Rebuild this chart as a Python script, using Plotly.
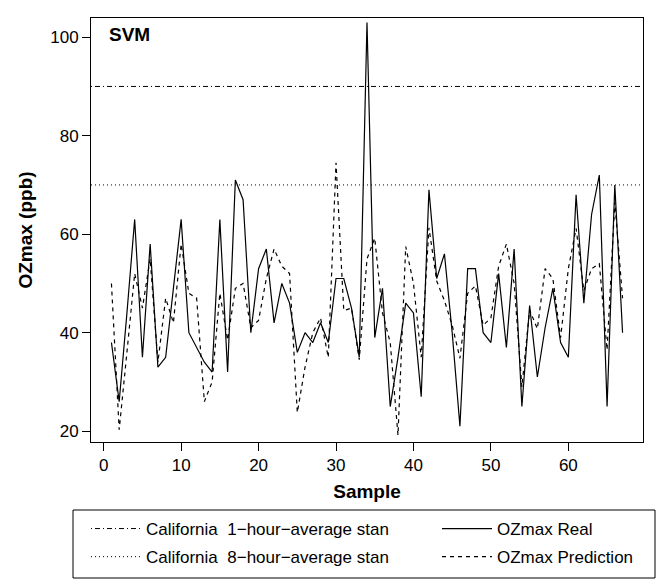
import plotly.graph_objects as go

# ---------------- data ----------------
sample = list(range(1, 68))
ozmax_real = [38, 26, 44, 63, 35, 58, 33, 35, 49, 63,
              40, 37, 34, 32, 63, 32, 71, 67, 40, 53,
              57, 42, 50, 46, 36, 40, 38, 42, 38, 51,
              51, 45, 35, 103, 39, 49, 25, 35, 46, 44,
              27, 69, 51, 56, 40, 21, 53, 53, 40, 38,
              52, 37, 57, 25, 45.5, 31, 41, 49, 38, 35,
              68, 46, 64, 72, 25, 70, 40]
ozmax_pred = [50, 20.3, 36, 52, 45, 55, 34, 47, 42, 58,
              48, 47, 26, 30, 48, 38.5, 49, 50, 41, 42.5,
              51, 57, 53.5, 52, 23.8, 33, 40, 43, 35, 74.5,
              44.5, 45, 34.5, 55, 59.2, 44, 38, 19.2, 57.5, 50,
              35, 61.3, 50.5, 46.5, 41.5, 34.8, 48, 49.5, 41.5, 43,
              53.5, 58, 50, 29, 44.6, 40.8, 53, 51, 39, 53,
              61.2, 48.5, 53, 54, 36.5, 66.5, 47]
std_1hour = 90
std_8hour = 70
x_ticks = [0, 10, 20, 30, 40, 50, 60]
y_ticks = [20, 40, 60, 80, 100]

x_range = [-1.64, 69.64]
y_range = [17.8, 103.9]

FONT = "Liberation Sans, Arial, Helvetica, sans-serif"

fig = go.Figure()

fig.add_trace(go.Scatter(
    x=x_range, y=[std_1hour, std_1hour], mode="lines",
    line=dict(color="black", width=1, dash="1px,3px,5px,3px"),
    name="California  1\u2212hour\u2212average stan",
    legend="legend", legendgroup="g1", hoverinfo="skip"))
fig.add_trace(go.Scatter(
    x=x_range, y=[std_8hour, std_8hour], mode="lines",
    line=dict(color="black", width=1, dash="1px,3px"),
    name="California  8\u2212hour\u2212average stan",
    legend="legend", legendgroup="g2", hoverinfo="skip"))
fig.add_trace(go.Scatter(
    x=sample, y=ozmax_real, mode="lines",
    line=dict(color="black", width=1.2),
    name="OZmax Real", legend="legend2", legendgroup="g3"))
fig.add_trace(go.Scatter(
    x=sample, y=ozmax_pred, mode="lines",
    line=dict(color="black", width=1.2, dash="4px,4px"),
    name="OZmax Prediction", legend="legend2", legendgroup="g4"))

L, R, T, B = 91, 16, 18, 145
W, H = 659, 587
pw, ph = W - L - R, H - T - B

def px_x(p):
    return (p - L) / pw

def px_y(p):
    return (H - B - p) / ph

fig.update_layout(
    width=W, height=H,
    margin=dict(l=L, r=R, t=T, b=B, autoexpand=False),
    paper_bgcolor="white", plot_bgcolor="white",
    font=dict(family=FONT, size=17, color="black"),
    xaxis=dict(range=x_range, tickvals=x_ticks, ticks="outside", ticklen=8,
               tickcolor="black", showline=True, mirror=True, linecolor="black",
               linewidth=1, showgrid=False, zeroline=False,
               tickfont=dict(size=17),
               title=dict(text="<b>Sample</b>", font=dict(size=19), standoff=10)),
    yaxis=dict(range=y_range, tickvals=y_ticks, ticks="outside", ticklen=8,
               tickcolor="black", showline=True, mirror=True, linecolor="black",
               linewidth=1, showgrid=False, zeroline=False,
               tickfont=dict(size=17),
               title=dict(text="<b>OZmax (ppb)</b>", font=dict(size=19), standoff=12)),
    legend=dict(x=px_x(86), y=px_y(511), xanchor="left", yanchor="top",
                bgcolor="rgba(0,0,0,0)", borderwidth=0, itemwidth=50,
                tracegroupgap=3, font=dict(size=17)),
    legend2=dict(x=px_x(437), y=px_y(511), xanchor="left", yanchor="top",
                 bgcolor="rgba(0,0,0,0)", borderwidth=0, itemwidth=50,
                 tracegroupgap=3, font=dict(size=17)),
    showlegend=True,
    shapes=[dict(type="rect", xref="paper", yref="paper",
                 x0=px_x(73), x1=px_x(655), y0=px_y(578), y1=px_y(510),
                 line=dict(color="black", width=1), fillcolor="rgba(0,0,0,0)")],
    annotations=[dict(text="<b>SVM</b>", xref="paper", yref="paper",
                      x=px_x(107), y=px_y(34), xanchor="left", yanchor="middle",
                      showarrow=False, font=dict(size=19))],
)

fig.write_html("out.html", config={"displayModeBar": False},
               post_script="document.body.style.margin='0px';document.body.style.overflow='hidden';")
